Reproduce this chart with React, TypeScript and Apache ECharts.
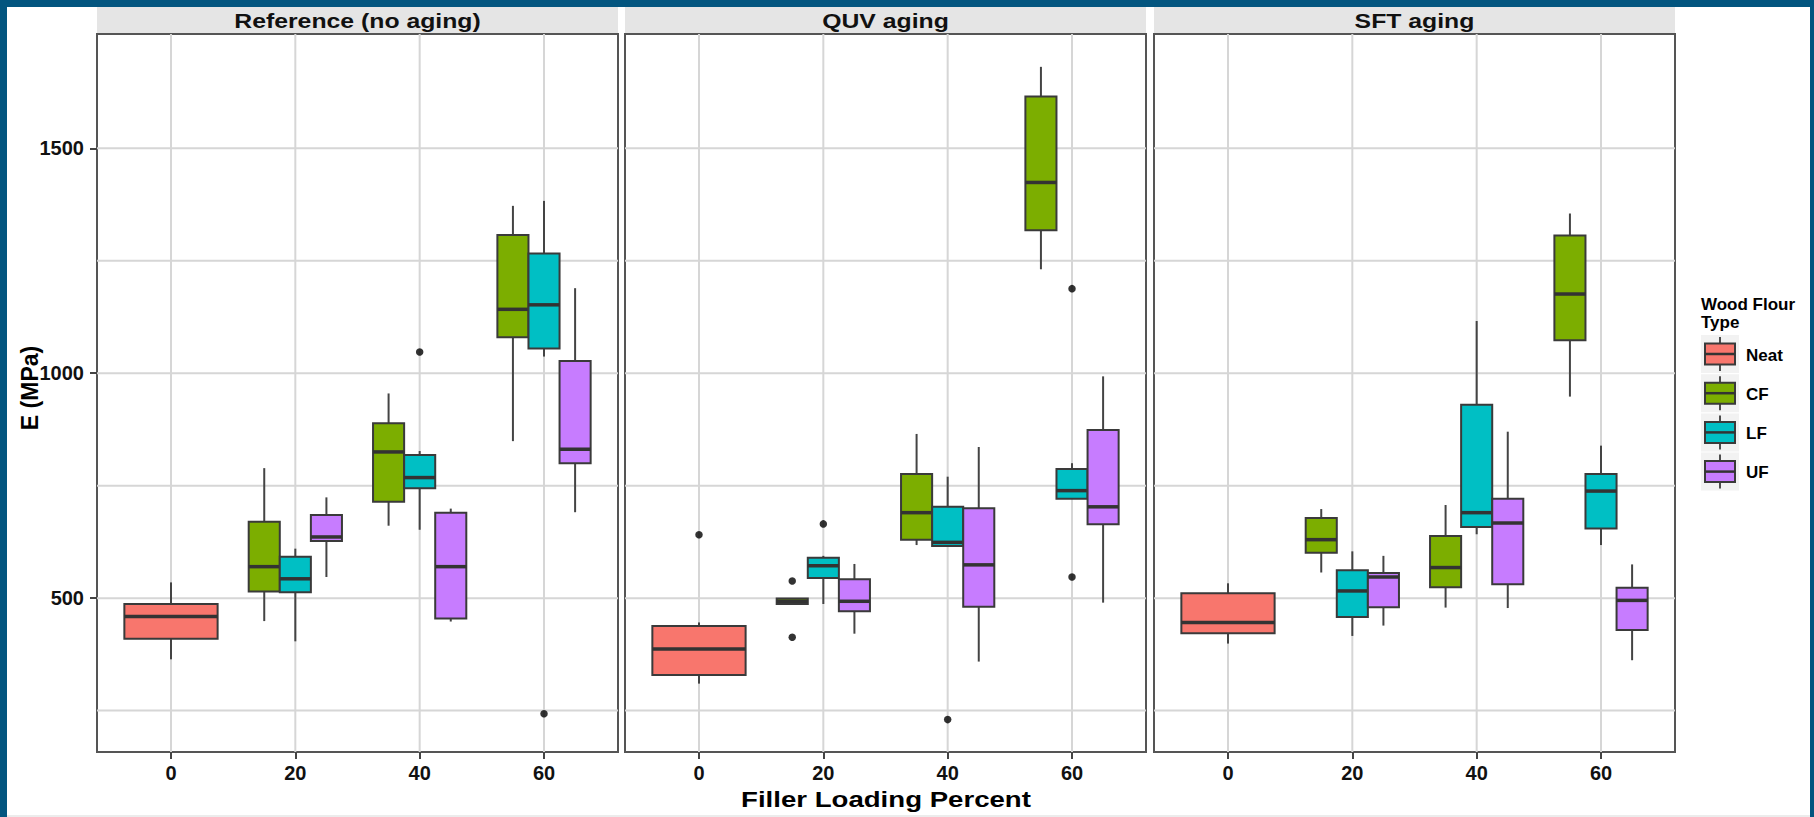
import React, { useEffect, useRef } from "react";
import * as echarts from "echarts";

const panelTitles = ["Reference (no aging)", "QUV aging", "SFT aging"];
const flourTypes = ["Neat", "CF", "LF", "UF"];
const flourColors = ["#F8766D", "#7CAE00", "#00BFC4", "#C77CFF"];
const loadingTicks = [0, 20, 40, 60];
const yLabelTicks = [500, 1000, 1500];
const yGridValues = [250, 500, 750, 1000, 1250, 1500];

// [loading %, type, lower whisker, Q1, median, Q3, upper whisker]
const refBoxes: any[] = [
  [0, "Neat", 364, 410, 459, 487, 535],
  [20, "CF", 449, 515, 570, 670, 789],
  [20, "LF", 404, 513, 543, 592, 610],
  [20, "UF", 547, 627, 636, 685, 724],
  [40, "CF", 661, 714, 825, 889, 955],
  [40, "LF", 652, 744, 768, 818, 827],
  [40, "UF", 448, 455, 570, 690, 699],
  [60, "CF", 849, 1080, 1142, 1307, 1372],
  [60, "LF", 1037, 1055, 1152, 1266, 1383],
  [60, "UF", 691, 800, 831, 1027, 1189],
];
const refOutliers: any[] = [
  [40, "LF", 1047],
  [60, "LF", 243],
];

const quvBoxes: any[] = [
  [0, "Neat", 310, 329, 387, 438, 446],
  [20, "CF", 487, 487, 493, 499, 499],
  [20, "LF", 487, 545, 572, 590, 594],
  [20, "UF", 421, 471, 493, 542, 576],
  [40, "CF", 618, 630, 690, 776, 865],
  [40, "LF", 616, 616, 624, 703, 770],
  [40, "UF", 359, 481, 574, 700, 836],
  [60, "CF", 1231, 1318, 1424, 1615, 1681],
  [60, "LF", 721, 721, 739, 787, 800],
  [60, "UF", 490, 664, 703, 874, 993],
];
const quvOutliers: any[] = [
  [0, "Neat", 641],
  [20, "CF", 538],
  [20, "CF", 413],
  [20, "LF", 665],
  [40, "LF", 230],
  [60, "LF", 1188],
  [60, "LF", 547],
];

const sftBoxes: any[] = [
  [0, "Neat", 399, 422, 446, 511, 533],
  [20, "CF", 557, 601, 630, 678, 698],
  [20, "LF", 416, 458, 516, 562, 604],
  [20, "UF", 439, 480, 547, 556, 594],
  [40, "CF", 479, 524, 568, 638, 707],
  [40, "LF", 642, 658, 690, 930, 1116],
  [40, "UF", 478, 531, 667, 721, 870],
  [60, "CF", 948, 1073, 1176, 1306, 1355],
  [60, "LF", 618, 655, 738, 776, 839],
  [60, "UF", 362, 429, 495, 523, 575],
];
const sftOutliers: any[] = [];

const panelBoxes = [refBoxes, quvBoxes, sftBoxes];
const panelOutliers = [refOutliers, quvOutliers, sftOutliers];

const X_MIN = -11.9;
const X_MAX = 71.9;
const Y_MIN = 158;
const Y_MAX = 1754;
const DODGE_WIDTH = 15;

const FONT = "'Liberation Sans', Arial, Helvetica, sans-serif";
const GRID_LEFTS = [97, 625, 1154];
const GRID_TOP = 34;
const GRID_W = 521;
const GRID_H = 718;

function dodge(boxes: any[], loading: number, type: string) {
  const present = flourTypes.filter((t) =>
    boxes.some((b) => b[0] === loading && b[1] === t)
  );
  const n = Math.max(present.length, 1);
  const w = DODGE_WIDTH / n;
  const i = Math.max(present.indexOf(type), 0);
  return { center: loading - DODGE_WIDTH / 2 + (i + 0.5) * w, half: w / 2 };
}

function boxRenderer(color: string) {
  return (params: any, api: any) => {
    const c = api.value(0);
    const h = api.value(1);
    const lo = api.value(2);
    const q1 = api.value(3);
    const md = api.value(4);
    const q3 = api.value(5);
    const hi = api.value(6);
    const pL = api.coord([c - h, q3]);
    const pR = api.coord([c + h, q1]);
    const pLo = api.coord([c, lo]);
    const pHi = api.coord([c, hi]);
    const pMd = api.coord([c, md]);
    const xl = pL[0];
    const xr = pR[0];
    const xc = pLo[0];
    const yq3 = pL[1];
    const yq1 = pR[1];
    const wStyle = { stroke: "#444444", lineWidth: 2 };
    return {
      type: "group",
      children: [
        { type: "line", shape: { x1: xc, y1: pHi[1], x2: xc, y2: yq3 }, style: wStyle },
        { type: "line", shape: { x1: xc, y1: yq1, x2: xc, y2: pLo[1] }, style: wStyle },
        {
          type: "rect",
          shape: { x: xl, y: yq3, width: xr - xl, height: Math.max(yq1 - yq3, 0.5) },
          style: { fill: color, stroke: "#3a3a3a", lineWidth: 2 },
        },
        {
          type: "line",
          shape: { x1: xl, y1: pMd[1], x2: xr, y2: pMd[1] },
          style: { stroke: "#333333", lineWidth: 3.5 },
        },
      ],
    };
  };
}

function vGridRenderer(params: any, api: any) {
  const cs = params.coordSys;
  const x = api.coord([api.value(0), api.value(1)])[0];
  return {
    type: "line",
    shape: { x1: x, y1: cs.y, x2: x, y2: cs.y + cs.height },
    style: { stroke: "#d6d6d6", lineWidth: 2 },
  };
}

function hGridRenderer(params: any, api: any) {
  const cs = params.coordSys;
  const y = api.coord([api.value(0), api.value(1)])[1];
  return {
    type: "line",
    shape: { x1: cs.x, y1: y, x2: cs.x + cs.width, y2: y },
    style: { stroke: "#d6d6d6", lineWidth: 2 },
  };
}

function buildOption() {
  const grids: any[] = [];
  const xAxes: any[] = [];
  const yAxes: any[] = [];
  const series: any[] = [];
  const graphics: any[] = [];

  panelTitles.forEach((title, p) => {
    grids.push({
      left: GRID_LEFTS[p],
      top: GRID_TOP,
      width: GRID_W,
      height: GRID_H,
      show: true,
      borderColor: "#555555",
      borderWidth: 2,
      backgroundColor: "#ffffff",
      containLabel: false,
    });
    xAxes.push({
      type: "value",
      gridIndex: p,
      position: "bottom",
      min: X_MIN,
      max: X_MAX,
      axisLine: { show: false, onZero: false },
      splitLine: { show: false },
      axisTick: {
        show: true,
        customValues: loadingTicks,
        length: 7,
        lineStyle: { color: "#444444", width: 2 },
      },
      axisLabel: {
        show: true,
        customValues: loadingTicks,
        formatter: (v: number) => String(v),
        margin: 11,
        fontSize: 20,
        fontWeight: "bold",
        fontFamily: FONT,
        color: "#111111",
      },
    });
    yAxes.push({
      type: "value",
      gridIndex: p,
      position: "left",
      min: Y_MIN,
      max: Y_MAX,
      axisLine: { show: false, onZero: false },
      splitLine: { show: false },
      axisTick: {
        show: p === 0,
        customValues: yLabelTicks,
        length: 7,
        lineStyle: { color: "#444444", width: 2 },
      },
      axisLabel: {
        show: p === 0,
        customValues: yLabelTicks,
        formatter: (v: number) => String(v),
        margin: 13,
        fontSize: 20,
        fontWeight: "bold",
        fontFamily: FONT,
        color: "#111111",
      },
    });

    series.push({
      type: "custom",
      name: "vgrid" + p,
      xAxisIndex: p,
      yAxisIndex: p,
      z: 1,
      silent: true,
      renderItem: vGridRenderer,
      data: loadingTicks.map((v) => [v, Y_MIN]),
    });
    series.push({
      type: "custom",
      name: "hgrid" + p,
      xAxisIndex: p,
      yAxisIndex: p,
      z: 1,
      silent: true,
      renderItem: hGridRenderer,
      data: yGridValues.map((v) => [X_MIN, v]),
    });

    const boxes = panelBoxes[p];
    flourTypes.forEach((t, ti) => {
      const rows = boxes.filter((b) => b[1] === t);
      if (!rows.length) return;
      series.push({
        type: "custom",
        name: t,
        xAxisIndex: p,
        yAxisIndex: p,
        z: 2,
        renderItem: boxRenderer(flourColors[ti]),
        encode: { x: 0, y: [2, 3, 4, 5, 6] },
        data: rows.map((b) => {
          const d = dodge(boxes, b[0], b[1]);
          return [d.center, d.half, b[2], b[3], b[4], b[5], b[6]];
        }),
      });
    });

    series.push({
      type: "scatter",
      name: "outliers" + p,
      xAxisIndex: p,
      yAxisIndex: p,
      z: 3,
      symbol: "circle",
      symbolSize: 7.5,
      itemStyle: { color: "#000000" },
      data: panelOutliers[p].map((o) => [dodge(boxes, o[0], o[1]).center, o[2]]),
    });

    // facet strip
    graphics.push({
      type: "rect",
      shape: { x: GRID_LEFTS[p], y: 7, width: GRID_W, height: 26 },
      style: { fill: "#e5e5e5" },
      silent: true,
    });
    graphics.push({
      type: "text",
      x: GRID_LEFTS[p] + GRID_W / 2,
      y: 21,
      scaleX: 1.24,
      style: {
        text: title,
        fontSize: 20,
        fontWeight: "bold",
        fontFamily: FONT,
        fill: "#111111",
        align: "center",
        verticalAlign: "middle",
      },
    });
  });

  // axis titles
  graphics.push({
    type: "text",
    x: (GRID_LEFTS[0] + GRID_LEFTS[2] + GRID_W) / 2,
    y: 799,
    scaleX: 1.255,
    style: {
      text: "Filler Loading Percent",
      fontSize: 22,
      fontWeight: "bold",
      fontFamily: FONT,
      fill: "#000000",
      align: "center",
      verticalAlign: "middle",
    },
  });
  graphics.push({
    type: "text",
    x: 30,
    y: 388,
    rotation: Math.PI / 2,
    style: {
      text: "E (MPa)",
      fontSize: 23,
      fontWeight: "bold",
      fontFamily: FONT,
      fill: "#000000",
      align: "center",
      verticalAlign: "middle",
    },
  });

  // legend
  const LX = 1701;
  graphics.push({
    type: "text",
    x: LX,
    y: 295,
    style: {
      text: "Wood Flour\nType",
      fontSize: 17,
      lineHeight: 18,
      fontWeight: "bold",
      fontFamily: FONT,
      fill: "#000000",
      align: "left",
      verticalAlign: "top",
    },
  });
  flourTypes.forEach((t, i) => {
    const cy = 354 + i * 39.2;
    graphics.push({
      type: "rect",
      shape: { x: LX, y: cy - 19, width: 38, height: 38 },
      style: { fill: "#f2f2f2" },
    });
    graphics.push({
      type: "line",
      shape: { x1: LX + 19, y1: cy - 17, x2: LX + 19, y2: cy + 17 },
      style: { stroke: "#4d4d4d", lineWidth: 2 },
    });
    graphics.push({
      type: "rect",
      shape: { x: LX + 4, y: cy - 10.5, width: 30, height: 21 },
      style: { fill: flourColors[i], stroke: "#3a3a3a", lineWidth: 2 },
    });
    graphics.push({
      type: "line",
      shape: { x1: LX + 4, y1: cy, x2: LX + 34, y2: cy },
      style: { stroke: "#333333", lineWidth: 2.5 },
    });
    graphics.push({
      type: "text",
      x: LX + 45,
      y: cy + 1,
      style: {
        text: t,
        fontSize: 17,
        fontWeight: "bold",
        fontFamily: FONT,
        fill: "#000000",
        align: "left",
        verticalAlign: "middle",
      },
    });
  });

  return {
    animation: false,
    backgroundColor: "transparent",
    grid: grids,
    xAxis: xAxes,
    yAxis: yAxes,
    series,
    graphic: graphics,
  };
}

export default function App() {
  const ref = useRef<HTMLDivElement>(null);
  useEffect(() => {
    if (!ref.current) return;
    const chart = echarts.init(ref.current, null, { renderer: "svg" });
    chart.setOption(buildOption() as any);
    return () => chart.dispose();
  }, []);
  return (
    <div
      style={{
        position: "fixed",
        left: 0,
        top: 0,
        width: 1814,
        height: 817,
        background: "#03557f",
        overflow: "hidden",
      }}
    >
      <div
        style={{
          position: "absolute",
          left: 7,
          top: 7,
          width: 1803,
          height: 808,
          background: "#ffffff",
        }}
      />
      <div
        style={{
          position: "absolute",
          left: 7,
          top: 815,
          width: 1803,
          height: 2,
          background: "#ececec",
        }}
      />
      <div
        ref={ref}
        style={{ position: "absolute", left: 0, top: 0, width: 1814, height: 817 }}
      />
    </div>
  );
}
